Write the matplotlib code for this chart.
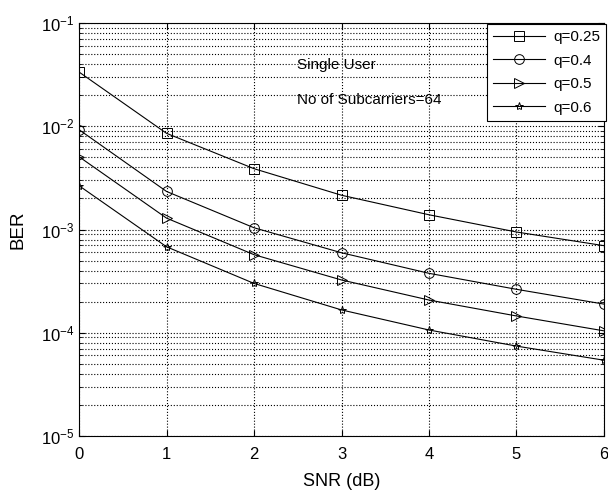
import numpy as np
import matplotlib
matplotlib.use("Agg")
import matplotlib.pyplot as plt
from matplotlib.ticker import LogLocator, LogFormatterSciNotation, NullFormatter

plt.rcParams['font.family'] = ['Liberation Sans', 'DejaVu Sans']
plt.rcParams['mathtext.fontset'] = 'custom'
plt.rcParams['mathtext.rm'] = 'Liberation Sans'
plt.rcParams['mathtext.it'] = 'Liberation Sans'

snr = [0, 1, 2, 3, 4, 5, 6]
ber_q025 = [0.0337, 0.00857, 0.00389, 0.00215, 0.00139, 0.000946, 0.000697]
ber_q04 = [0.0093, 0.00234, 0.00104, 0.000595, 0.000376, 0.000263, 0.000189]
ber_q05 = [0.00508, 0.00129, 0.00057, 0.000324, 0.000207, 0.000145, 0.000104]
ber_q06 = [0.00266, 0.00068, 0.0003, 0.000166, 0.000106, 7.4e-5, 5.4e-5]

series = [
    (ber_q025, 's', 'q=0.25', 7),
    (ber_q04, 'o', 'q=0.4', 7),
    (ber_q05, '>', 'q=0.5', 7),
    (ber_q06, '*', 'q=0.6', 6),
]

fig = plt.figure(figsize=(6.08, 4.93), dpi=100)
ax = fig.add_axes([0.130, 0.1162, 0.8634, 0.8365])

for ber, mk, lab, ms in series:
    ax.semilogy(snr, ber, color='black', lw=0.8, marker=mk, ms=ms,
                mfc='none', mec='black', mew=0.7, label=lab)

ax.set_xlim(0, 6)
ax.set_ylim(1e-5, 1e-1)
ax.set_xticks(snr)
ax.yaxis.set_major_locator(LogLocator(base=10, numticks=10))
ax.yaxis.set_minor_locator(LogLocator(base=10, subs=np.arange(2, 10), numticks=10))
ax.yaxis.set_major_formatter(LogFormatterSciNotation())
ax.yaxis.set_minor_formatter(NullFormatter())

ax.grid(True, which='major', ls=':', color='black', lw=0.8)
ax.grid(True, which='minor', axis='y', ls=':', color='black', lw=0.8)
ax.tick_params(which='both', direction='in', top=True, right=True,
               labelsize=12, color='black')
ax.tick_params(axis='x', pad=8)
ax.tick_params(which='minor', length=2)
ax.tick_params(which='major', length=4)
for s in ax.spines.values():
    s.set_linewidth(0.8)

ax.set_xlabel('SNR (dB)', fontsize=13, labelpad=8)
ax.set_ylabel('BER', fontsize=13.5, labelpad=10)

ax.text(2.49, 0.0395, 'Single User', fontsize=11, va='center', ha='left')
ax.text(2.49, 0.018, 'No of Subcarriers=64', fontsize=11, va='center', ha='left')

leg = ax.legend(loc='upper right', bbox_to_anchor=(606 / 608, 1 - 24 / 493),
                bbox_transform=fig.transFigure, fontsize=11, frameon=True,
                fancybox=False, edgecolor='black', framealpha=1,
                handlelength=3.4, borderpad=0.4, labelspacing=0.62,
                handletextpad=0.5, borderaxespad=0)
leg.get_frame().set_linewidth(0.8)

fig.savefig('out.png', dpi=100)
